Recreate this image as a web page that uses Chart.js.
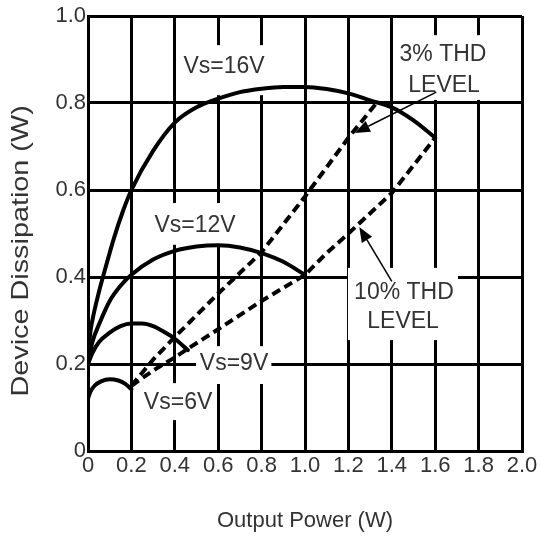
<!DOCTYPE html>
<html>
<head>
<meta charset="utf-8">
<script src="https://cdn.jsdelivr.net/npm/chart.js@4/dist/chart.umd.min.js"></script>
<style>
html,body{margin:0;padding:0;background:#fff;}
#wrap{width:541px;height:536px;position:relative;}
</style>
</head>
<body>
<div id="wrap"><canvas id="c" width="541" height="536"></canvas></div>
<script>
// ---- tick labels ----
const xTickValues = [0, 0.2, 0.4, 0.6, 0.8, 1.0, 1.2, 1.4, 1.6, 1.8, 2.0];
const xTickLabels = ['0', '0.2', '0.4', '0.6', '0.8', '1.0', '1.2', '1.4', '1.6', '1.8', '2.0'];
const yTickValues = [0, 0.2, 0.4, 0.6, 0.8, 1.0];
const yTickLabels = ['0', '0.2', '0.4', '0.6', '0.8', '1.0'];

// ---- series (Output Power W, Device Dissipation W) ----
const vs16X = [0, 0.01, 0.02, 0.05, 0.08, 0.12, 0.16, 0.2, 0.3, 0.4, 0.5, 0.6, 0.7, 0.8, 0.9, 1.0, 1.1, 1.2, 1.3, 1.4, 1.5, 1.6];
const vs16Y = [0.21, 0.27, 0.3, 0.365, 0.42, 0.49, 0.55, 0.6, 0.69, 0.755, 0.79, 0.81, 0.825, 0.833, 0.837, 0.837, 0.832, 0.822, 0.806, 0.79, 0.76, 0.72];

const vs12X = [0, 0.02, 0.05, 0.1, 0.15, 0.2, 0.3, 0.4, 0.5, 0.6, 0.7, 0.8, 0.9, 1.0];
const vs12Y = [0.2, 0.25, 0.29, 0.345, 0.38, 0.405, 0.44, 0.46, 0.47, 0.473, 0.468, 0.455, 0.435, 0.405];

const vs9X = [0, 0.02, 0.05, 0.1, 0.15, 0.2, 0.25, 0.3, 0.35, 0.4, 0.46];
const vs9Y = [0.2, 0.225, 0.25, 0.272, 0.287, 0.293, 0.293, 0.287, 0.274, 0.258, 0.232];

const vs6X = [0, 0.01, 0.03, 0.06, 0.1, 0.14, 0.17, 0.2];
const vs6Y = [0.12, 0.135, 0.15, 0.16, 0.165, 0.162, 0.155, 0.142];

const thd3X = [0.2, 0.3, 0.4, 0.6, 0.8, 1.0, 1.2, 1.33];
const thd3Y = [0.15, 0.21, 0.262, 0.362, 0.457, 0.585, 0.72, 0.8];

const thd10X = [0.2, 0.3, 0.4, 0.46, 0.6, 0.8, 1.0, 1.1, 1.2, 1.4, 1.6];
const thd10Y = [0.15, 0.185, 0.215, 0.235, 0.28, 0.345, 0.405, 0.455, 0.5, 0.593, 0.72];

// ---- texts ----
const noteTexts = [['Vs=16V'], ['Vs=12V'], ['Vs=9V'], ['Vs=6V'], ['3% THD', 'LEVEL'], ['10% THD', 'LEVEL']];
const xTitle = 'Output Power (W)';
const yTitle = 'Device Dissipation (W)';

function pts(xs, ys) { return xs.map((x, i) => ({ x: x, y: ys[i] })); }

const FONT = '"Liberation Sans", Arial, Helvetica, sans-serif';
const TEXT = '#333333';

// placement of annotation boxes/texts (data coordinates)
const notePlacement = [
  { at: [[0.627, 0.883]], box: [0.415, 0.818, 0.839, 0.933] },
  { at: [[0.493, 0.517]], box: [0.286, 0.474, 0.700, 0.570] },
  { at: [[0.673, 0.200]], box: [0.498, 0.154, 0.845, 0.241] },
  { at: [[0.415, 0.110]], box: [0.240, 0.071, 0.590, 0.156] },
  { at: [[1.636, 0.910], [1.641, 0.839]], box: [1.419, 0.807, 1.862, 0.956] },
  { at: [[1.456, 0.363], [1.452, 0.297]], box: [1.198, 0.255, 1.705, 0.421] }
];
const arrowPlacement = [
  { from: [1.605, 0.825], to: [1.23, 0.731] },
  { from: [1.40, 0.39], to: [1.25, 0.515] }
];

const notesPlugin = {
  id: 'notes',
  beforeDatasetsDraw(chart) {
    const ctx = chart.ctx, xs = chart.scales.x, ys = chart.scales.y;
    ctx.save();
    notePlacement.forEach((p) => {
      const x1 = xs.getPixelForValue(p.box[0]), x2 = xs.getPixelForValue(p.box[2]);
      const y1 = ys.getPixelForValue(p.box[3]), y2 = ys.getPixelForValue(p.box[1]);
      ctx.fillStyle = '#ffffff';
      ctx.fillRect(x1, y1, x2 - x1, y2 - y1);
    });
    ctx.fillStyle = TEXT;
    ctx.font = '23px ' + FONT;
    ctx.textAlign = 'center';
    ctx.textBaseline = 'middle';
    notePlacement.forEach((p, i) => {
      noteTexts[i].forEach((t, j) => {
        ctx.fillText(t, xs.getPixelForValue(p.at[j][0]), ys.getPixelForValue(p.at[j][1]));
      });
    });
    ctx.restore();
  },
  afterDatasetsDraw(chart) {
    const ctx = chart.ctx, xs = chart.scales.x, ys = chart.scales.y;
    ctx.save();
    ctx.strokeStyle = '#000';
    ctx.fillStyle = '#000';
    ctx.lineWidth = 1.5;
    arrowPlacement.forEach(a => {
      const fx = xs.getPixelForValue(a.from[0]), fy = ys.getPixelForValue(a.from[1]);
      const tx = xs.getPixelForValue(a.to[0]), ty = ys.getPixelForValue(a.to[1]);
      const ang = Math.atan2(ty - fy, tx - fx);
      const L = 15, W = 6;
      const bx = tx - L * Math.cos(ang), by = ty - L * Math.sin(ang);
      ctx.beginPath();
      ctx.moveTo(fx, fy);
      ctx.lineTo(bx, by);
      ctx.stroke();
      ctx.beginPath();
      ctx.moveTo(tx, ty);
      ctx.lineTo(bx + W * Math.sin(ang), by - W * Math.cos(ang));
      ctx.lineTo(bx - W * Math.sin(ang), by + W * Math.cos(ang));
      ctx.closePath();
      ctx.fill();
    });
    ctx.restore();
  },
  afterDraw(chart) {
    // y-axis title, slightly stretched along its length like the scanned original
    const ctx = chart.ctx, ys = chart.scales.y;
    ctx.save();
    ctx.fillStyle = TEXT;
    ctx.font = '24px ' + FONT;
    ctx.textAlign = 'center';
    ctx.textBaseline = 'middle';
    ctx.translate(21, ys.getPixelForValue(0.46));
    ctx.rotate(-Math.PI / 2);
    ctx.scale(1.2, 1);
    ctx.fillText(yTitle, 0, 0);
    ctx.restore();
  }
};

function solid(data) {
  return { data: data, borderColor: '#000', borderWidth: 4, pointRadius: 0, showLine: true,
           fill: false, cubicInterpolationMode: 'monotone', borderCapStyle: 'round', borderJoinStyle: 'round' };
}
function dashed(data) {
  return { data: data, borderColor: '#000', borderWidth: 4, pointRadius: 0, showLine: true,
           fill: false, tension: 0, borderDash: [9, 5], borderCapStyle: 'butt' };
}

new Chart(document.getElementById('c'), {
  type: 'scatter',
  data: {
    datasets: [
      solid(pts(vs16X, vs16Y)),
      solid(pts(vs12X, vs12Y)),
      solid(pts(vs9X, vs9Y)),
      solid(pts(vs6X, vs6Y)),
      dashed(pts(thd3X, thd3Y)),
      dashed(pts(thd10X, thd10Y))
    ]
  },
  options: {
    responsive: false,
    animation: false,
    devicePixelRatio: 1,
    layout: { padding: { top: 16, right: 19, left: 0, bottom: 0 } },
    plugins: { legend: { display: false }, tooltip: { enabled: false } },
    scales: {
      x: {
        type: 'linear', min: 0, max: 2,
        afterBuildTicks: s => { s.ticks = xTickValues.map(v => ({ value: v })); },
        afterFit: s => { s.height = 85; },
        ticks: { callback: (v, i) => xTickLabels[i], color: TEXT, font: { family: FONT, size: 22 }, padding: 2, maxRotation: 0, autoSkip: false },
        grid: { color: '#000', lineWidth: 3, drawTicks: false },
        border: { display: true, color: '#000', width: 3 },
        title: { display: true, text: xTitle, color: TEXT, font: { family: FONT, size: 22 }, padding: { top: 0, bottom: 2 } }
      },
      y: {
        type: 'linear', min: 0, max: 1,
        afterBuildTicks: s => { s.ticks = yTickValues.map(v => ({ value: v })); },
        afterFit: s => { s.width = 88; },
        ticks: { callback: (v, i) => yTickLabels[i], color: TEXT, font: { family: FONT, size: 22 }, padding: 2 },
        grid: { color: '#000', lineWidth: 3, drawTicks: false },
        border: { display: true, color: '#000', width: 3 },
        title: { display: false }
      }
    }
  },
  plugins: [notesPlugin]
});
</script>
</body>
</html>
